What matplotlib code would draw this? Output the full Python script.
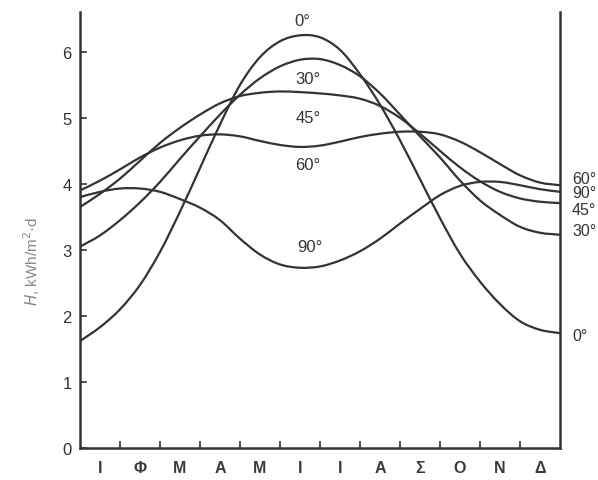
import matplotlib.pyplot as plt
from matplotlib.path import Path
from matplotlib.patches import PathPatch

# month positions (0 = start of January, 12 = end of December), half-month steps
x = [i * 0.5 for i in range(25)]

h_0 = [1.62, 1.83, 2.10, 2.47, 2.97, 3.58, 4.24, 4.90, 5.50, 5.92, 6.16, 6.25, 6.22,
       6.03, 5.66, 5.20, 4.66, 4.07, 3.48, 2.94, 2.52, 2.18, 1.92, 1.79, 1.74]
h_30 = [3.05, 3.22, 3.45, 3.72, 4.03, 4.38, 4.72, 5.05, 5.35, 5.60, 5.78, 5.88, 5.89,
        5.80, 5.63, 5.37, 5.05, 4.72, 4.40, 4.05, 3.75, 3.53, 3.35, 3.26, 3.23]
h_45 = [3.65, 3.85, 4.08, 4.35, 4.62, 4.85, 5.05, 5.22, 5.33, 5.38, 5.40, 5.39, 5.37,
        5.34, 5.29, 5.18, 5.00, 4.76, 4.50, 4.25, 4.04, 3.88, 3.78, 3.73, 3.71]
h_60 = [3.90, 4.05, 4.22, 4.40, 4.55, 4.66, 4.73, 4.75, 4.72, 4.65, 4.59, 4.56, 4.58,
        4.64, 4.71, 4.76, 4.79, 4.79, 4.75, 4.64, 4.48, 4.30, 4.13, 4.02, 3.98]
h_90 = [3.80, 3.88, 3.93, 3.93, 3.88, 3.77, 3.64, 3.45, 3.17, 2.93, 2.78, 2.73, 2.75,
        2.84, 2.98, 3.17, 3.40, 3.62, 3.83, 3.97, 4.03, 4.03, 3.98, 3.92, 3.88]

months = ['Ι', 'Φ', 'Μ', 'Α', 'Μ', 'Ι', 'Ι', 'Α', 'Σ', 'Ο', 'Ν', 'Δ']

plt.rcParams['font.family'] = ['Liberation Sans', 'DejaVu Sans']

col = '#333333'


def smooth_path(xs, ys):
    # Catmull-Rom through the read points, drawn as cubic Bezier segments
    pts = list(zip(xs, ys))
    verts = [pts[0]]
    codes = [Path.MOVETO]
    n = len(pts)
    for i in range(n - 1):
        p0 = pts[i - 1] if i > 0 else pts[i]
        p1 = pts[i]
        p2 = pts[i + 1]
        p3 = pts[i + 2] if i + 2 < n else pts[i + 1]
        c1 = (p1[0] + (p2[0] - p0[0]) / 6, p1[1] + (p2[1] - p0[1]) / 6)
        c2 = (p2[0] - (p3[0] - p1[0]) / 6, p2[1] - (p3[1] - p1[1]) / 6)
        verts += [c1, c2, p2]
        codes += [Path.CURVE4] * 3
    return Path(verts, codes)


fig = plt.figure(figsize=(5.98, 4.81), dpi=100)
ax = fig.add_axes([0.1338, 0.0665, 0.8027, 0.906])

for h in [h_0, h_30, h_45, h_60, h_90]:
    ax.add_patch(PathPatch(smooth_path(x, h), fill=False, edgecolor=col, lw=1.6))

ax.set_xlim(0, 12)
ax.set_ylim(0, 6.6)

ax.spines['top'].set_visible(False)
for s in ['left', 'right', 'bottom']:
    ax.spines[s].set_color(col)
    ax.spines[s].set_linewidth(1.8)

ax.set_yticks(range(7))
ax.tick_params(axis='y', direction='in', length=5, width=1.2, colors=col,
               labelsize=12, pad=6, labelcolor='#333333')
ax.set_xticks(range(1, 12))
ax.set_xticklabels([])
ax.tick_params(axis='x', direction='in', length=5, width=1.2, colors=col)

for i, m in enumerate(months):
    ax.text(i + 0.5, -0.29, m, ha='center', va='center', fontsize=11.5,
            fontweight='bold', color='#3a3a3a')

ax.set_ylabel('$\\it{H}$, kWh/m$^2$·d', fontsize=11, color='#888888')
ax.yaxis.set_label_coords(-0.079, 0.43)

# labels on the curves
lab_kw = dict(ha='center', va='center', fontsize=12, color='#333333')
ax.text(5.55, 6.48, '0°', **lab_kw)
ax.text(5.7, 5.6, '30°', **lab_kw)
ax.text(5.7, 5.0, '45°', **lab_kw)
ax.text(5.7, 4.3, '60°', **lab_kw)
ax.text(5.75, 3.05, '90°', **lab_kw)

# labels right of the frame
rk = dict(ha='left', va='center', fontsize=11.5, color='#333333', clip_on=False)
ax.text(12.3, 4.08, '60°', **rk)
ax.text(12.3, 3.87, '90°', **rk)
ax.text(12.3, 3.61, '45°', **rk)
ax.text(12.3, 3.29, '30°', **rk)
ax.text(12.3, 1.7, '0°', **rk)

fig.savefig('out.png', dpi=100)
